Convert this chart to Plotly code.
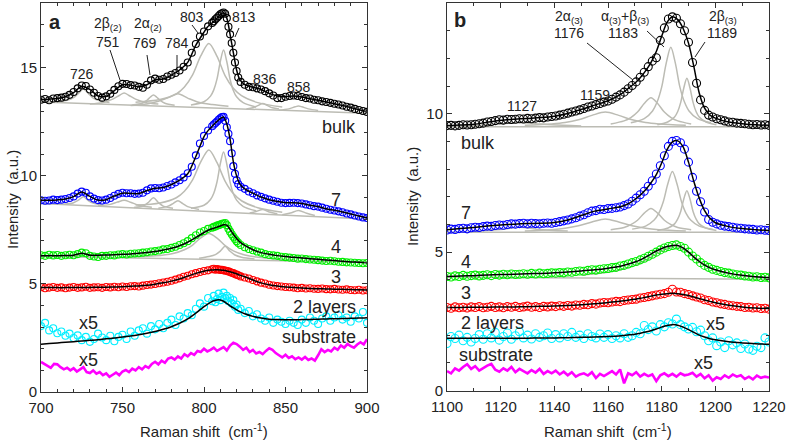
import plotly.graph_objects as go

W, H = 787, 441

# ================= panel a : 700-900 cm-1 =================
XA = [700 + 2.5 * i for i in range(43)] + [806 + i for i in range(16)] + [822.5 + 2.5 * i for i in range(32)]
FA = [700 + 5 * i for i in range(21)] + [802 + 2 * i for i in range(11)] + [825 + 5 * i for i in range(16)]
XSA = [700 + 2 * i for i in range(101)]

a_bulk = [13.52, 13.56, 13.5, 13.58, 13.6, 13.62, 13.66, 13.75, 13.88, 14.05,
          14.18, 14.16, 14.0, 13.85, 13.7, 13.62, 13.68, 13.8, 13.98, 14.15,
          14.26, 14.25, 14.2, 14.18, 14.12, 14.08, 14.22, 14.42, 14.5, 14.45,
          14.48, 14.6, 14.68, 14.76, 14.88, 15.05, 15.25, 15.7, 16.1, 16.45,
          16.68, 16.92, 17.08,
          17.15, 17.25, 17.32, 17.4, 17.48, 17.52, 17.56, 17.5, 17.3, 16.9, 16.55, 16.15, 15.7, 15.25, 14.85, 14.55,
          14.35, 14.22, 14.12, 14.1, 14.05, 14.0, 13.92, 13.82, 13.72, 13.6, 13.6, 13.66, 13.7, 13.72, 13.7, 13.65,
          13.6, 13.58, 13.52, 13.5, 13.45, 13.42, 13.38, 13.34, 13.3, 13.26, 13.2, 13.16, 13.1, 13.05, 13.0, 12.96]
a_7 = [8.87, 8.85, 8.86, 8.9, 8.88, 8.9, 8.93, 8.98, 9.05, 9.18,
       9.27, 9.22, 9.05, 8.95, 8.88, 8.86, 8.9, 8.98, 9.08, 9.17,
       9.22, 9.2, 9.2, 9.17, 9.18, 9.22, 9.33, 9.42, 9.44, 9.43,
       9.46, 9.53, 9.6, 9.7, 9.8, 9.93, 10.12, 10.42, 10.95, 11.5,
       11.85, 12.1, 12.3,
       12.38, 12.45, 12.52, 12.6, 12.66, 12.72, 12.73, 12.55, 12.25, 11.95, 11.6, 11.05, 10.45, 10.1, 9.8, 9.62,
       9.5, 9.4, 9.28, 9.2, 9.1, 9.03, 8.96, 8.9, 8.85, 8.8, 8.76, 8.74, 8.75, 8.76, 8.74, 8.72,
       8.68, 8.64, 8.6, 8.58, 8.53, 8.48, 8.43, 8.4, 8.36, 8.32, 8.26, 8.22, 8.17, 8.12, 8.08, 8.05]
a_4 = [6.33, 6.3, 6.35, 6.32, 6.34, 6.3, 6.33, 6.35, 6.33, 6.38,
       6.45, 6.42, 6.3, 6.27, 6.25, 6.3, 6.3, 6.33, 6.32, 6.36,
       6.38, 6.36, 6.4, 6.41, 6.42, 6.45, 6.47, 6.5, 6.52, 6.55,
       6.6, 6.62, 6.67, 6.72, 6.8, 6.88, 6.98, 7.12, 7.25, 7.38,
       7.45, 7.55, 7.6,
       7.64, 7.66, 7.7, 7.72, 7.75, 7.78, 7.8, 7.82, 7.72, 7.55, 7.42, 7.3, 7.18, 7.08, 6.98, 6.9,
       6.8, 6.7, 6.62, 6.56, 6.5, 6.45, 6.38, 6.34, 6.32, 6.3, 6.26, 6.24, 6.22, 6.2, 6.17, 6.18,
       6.15, 6.13, 6.12, 6.1, 6.08, 6.06, 6.07, 6.05, 6.03, 6.02, 6.0, 5.99, 5.98, 5.97, 5.96, 5.97]
a_3 = [4.85, 4.8, 4.83, 4.86, 4.82, 4.84, 4.8, 4.83, 4.86, 4.82,
       4.84, 4.87, 4.82, 4.84, 4.85, 4.82, 4.86, 4.84, 4.87, 4.85,
       4.88, 4.86, 4.89, 4.9, 4.88, 4.92, 4.95, 4.97, 5.0, 5.03,
       5.07, 5.1, 5.15, 5.2, 5.26, 5.33, 5.38, 5.45, 5.5, 5.55,
       5.6, 5.63, 5.68,
       5.7, 5.66, 5.69, 5.67, 5.65, 5.66, 5.63, 5.62, 5.6, 5.58, 5.55, 5.52, 5.5, 5.46, 5.43, 5.4,
       5.35, 5.3, 5.25, 5.18, 5.12, 5.06, 5.02, 4.96, 4.93, 4.9, 4.88, 4.86, 4.85, 4.83, 4.8, 4.82,
       4.79, 4.8, 4.78, 4.77, 4.79, 4.76, 4.75, 4.77, 4.74, 4.73, 4.75, 4.72, 4.71, 4.73, 4.7, 4.71]
a_2 = [3.05, 3.2, 2.85, 2.95, 2.72, 2.8, 2.6, 2.7, 2.5, 2.62,
       2.4, 2.55, 2.32, 2.45, 2.7, 2.52, 2.4, 2.6, 2.35, 2.55,
       2.65, 2.45, 2.8, 2.6, 2.85, 2.95, 2.7, 3.05, 2.9, 3.15,
       2.95, 3.2, 3.35, 3.1, 3.5, 3.4, 3.65, 3.55, 3.85, 4.1,
       3.95, 4.35, 4.2,
       4.45, 4.15, 4.3, 4.55, 4.25, 4.4, 4.6, 4.35, 4.45, 4.2, 4.35, 4.1, 4.25, 3.95, 4.05, 3.8,
       3.85, 3.65, 3.75, 3.5, 3.6, 3.4, 3.3, 3.45, 3.2, 3.35, 3.25, 3.15, 3.3, 3.2, 3.1, 3.35,
       3.2, 3.45, 3.3, 3.15, 3.4, 3.5, 3.3, 3.45, 3.55, 3.35, 3.45, 3.25, 3.5, 3.4, 3.7, 3.2]
a_sub = [1.39, 1.3, 1.2, 1.12, 1.3, 1.28, 1.15, 1.05, 1.12, 1.0, 1.1, 0.95, 1.05, 1.15, 0.92, 0.88, 1.0, 0.85, 0.92, 0.78,
         0.86, 0.7, 0.8, 0.9, 0.78, 0.95, 1.02, 0.92, 1.08, 1.0, 1.15, 1.05, 1.2, 1.12, 1.3, 1.4, 1.28, 1.45, 1.35, 1.55,
         1.6, 1.5, 1.65, 1.55, 1.75, 1.65, 1.8, 1.72, 1.9, 1.85, 2.0, 1.88, 1.95, 2.05, 1.9, 1.98, 2.08, 1.92, 2.15, 2.28,
         2.22, 2.1, 1.95, 2.05, 1.85, 1.95, 1.78, 1.85, 1.75, 1.9, 2.02, 1.95, 1.8, 1.7, 1.6, 1.72, 1.58, 1.65, 1.52, 1.6,
         1.5, 1.62, 1.48, 1.55, 1.45, 1.7, 1.98, 1.85, 1.95, 1.88, 2.05, 1.95, 2.15, 2.05, 2.22, 2.12, 2.05, 2.2, 2.3, 2.2,
         2.45]

a_bulk_fit = [13.53, 13.55, 13.58, 13.66, 13.85, 14.15, 14.0, 13.7, 13.68, 13.95, 14.22, 14.2, 14.12, 14.22, 14.45,
              14.48, 14.66, 14.9, 15.25, 16.05, 16.65,
              16.88, 17.02, 17.14, 17.3, 17.46, 17.55, 17.3, 16.55, 15.7, 14.9, 14.45,
              14.22, 14.1, 14.0, 13.82, 13.7, 13.66, 13.7, 13.65, 13.57, 13.5, 13.42, 13.34, 13.26, 13.16, 13.06, 12.97]
a_7_fit = [8.87, 8.87, 8.89, 8.93, 9.04, 9.25, 9.05, 8.88, 8.9, 9.07, 9.2, 9.19, 9.18, 9.32, 9.43, 9.46, 9.6, 9.8,
           10.1, 10.9, 11.82,
           12.05, 12.22, 12.38, 12.52, 12.65, 12.72, 12.4, 11.7, 10.65, 10.0, 9.62,
           9.4, 9.2, 9.02, 8.9, 8.82, 8.76, 8.76, 8.72, 8.64, 8.58, 8.48, 8.41, 8.33, 8.24, 8.14, 8.06]
a_4_fit = [6.3, 6.31, 6.31, 6.32, 6.33, 6.42, 6.33, 6.33, 6.34, 6.35, 6.37, 6.39, 6.42, 6.45, 6.5, 6.57, 6.65, 6.77,
           6.93, 7.15, 7.38,
           7.46, 7.53, 7.58, 7.63, 7.68, 7.74, 7.72, 7.52, 7.3, 7.1, 6.94,
           6.78, 6.58, 6.45, 6.37, 6.31, 6.27, 6.23, 6.2, 6.17, 6.14, 6.11, 6.08, 6.05, 6.02, 6.0, 5.98]
a_3_fit = [4.83, 4.83, 4.83, 4.83, 4.84, 4.84, 4.84, 4.85, 4.85, 4.86, 4.87, 4.89, 4.91, 4.94, 4.99, 5.05, 5.13, 5.23,
           5.36, 5.49, 5.59,
           5.62, 5.64, 5.65, 5.66, 5.65, 5.63, 5.6, 5.56, 5.52, 5.47, 5.41,
           5.33, 5.18, 5.05, 4.96, 4.9, 4.86, 4.83, 4.81, 4.79, 4.78, 4.77, 4.76, 4.75, 4.74, 4.73, 4.72]
a_2_fit = [2.21, 2.24, 2.27, 2.3, 2.33, 2.36, 2.39, 2.42, 2.46, 2.5, 2.54, 2.59, 2.65, 2.72, 2.8, 2.9, 3.02, 3.18,
           3.38, 3.65, 3.95,
           4.06, 4.15, 4.22, 4.26, 4.26, 4.2, 4.1, 3.99, 3.89, 3.8, 3.72,
           3.62, 3.5, 3.42, 3.37, 3.35, 3.34, 3.34, 3.35, 3.36, 3.37, 3.38, 3.39, 3.4, 3.41, 3.42, 3.44]

# fitted components (x list, y list)
a_bulk_comps = [
    ([700, 900], [13.42, 12.9]),
    ([710, 716, 720, 723, 726, 729, 732, 736, 742], [13.44, 13.5, 13.62, 13.82, 14.02, 13.82, 13.6, 13.47, 13.4]),
    ([730, 738, 744, 748, 751, 754, 758, 764, 772], [13.33, 13.4, 13.55, 13.72, 13.84, 13.72, 13.55, 13.4, 13.33]),
    ([756, 762, 765, 767, 769, 771, 773, 776, 782], [13.28, 13.36, 13.5, 13.64, 13.74, 13.64, 13.5, 13.36, 13.27]),
    ([755, 765, 772, 778, 784, 790, 796, 805, 815], [13.26, 13.33, 13.45, 13.62, 13.8, 13.6, 13.42, 13.3, 13.22]),
    ([758, 773, 783, 788, 793, 798, 803, 808, 813, 818, 823, 833, 848],
     [13.41, 13.53, 13.79, 14.11, 14.67, 15.55, 16.13, 15.53, 14.63, 14.05, 13.71, 13.39, 13.19]),
    ([792, 800, 804, 806, 808, 810, 812, 814, 816, 818, 820, 824, 832],
     [13.28, 13.43, 13.69, 13.98, 14.49, 15.29, 15.82, 15.28, 14.47, 13.95, 13.66, 13.39, 13.19]),
    ([826, 830, 833, 836, 839, 842, 846], [13.1, 13.15, 13.25, 13.35, 13.25, 13.15, 13.09]),
    ([846, 852, 856, 858, 860, 864, 870], [13.04, 13.1, 13.2, 13.23, 13.2, 13.1, 13.03]),
]
a_7_comps = [
    ([700, 900], [8.72, 8.0]),
    ([714, 720, 723, 726, 729, 732, 738], [8.69, 8.76, 8.88, 9.03, 8.86, 8.74, 8.65]),
    ([735, 742, 747, 751, 755, 760, 768], [8.62, 8.67, 8.79, 8.87, 8.78, 8.64, 8.55]),
    ([757, 763, 766, 769, 772, 775, 781], [8.54, 8.62, 8.78, 8.99, 8.77, 8.6, 8.5]),
    ([772, 778, 781, 784, 787, 790, 797], [8.5, 8.6, 8.72, 8.85, 8.72, 8.58, 8.45]),
    ([758, 773, 783, 788, 793, 798, 803, 808, 813, 818, 823, 833, 848],
     [8.65, 8.75, 8.99, 9.29, 9.82, 10.65, 11.2, 10.61, 9.75, 9.18, 8.85, 8.53, 8.32]),
    ([792, 800, 804, 806, 808, 810, 812, 814, 816, 818, 820, 824, 832],
     [8.5, 8.64, 8.91, 9.2, 9.73, 10.56, 11.11, 10.54, 9.71, 9.17, 8.88, 8.59, 8.38]),
    ([828, 832, 836, 840, 845], [8.28, 8.35, 8.45, 8.33, 8.25]),
    ([848, 853, 858, 863, 868], [8.2, 8.28, 8.4, 8.27, 8.17]),
]
a_4_comps = [
    ([700, 900], [6.28, 6.0]),
    ([716, 722, 726, 730, 736], [6.28, 6.32, 6.42, 6.32, 6.27]),
    ([750, 770, 781, 788, 793, 798, 803, 808, 813, 818, 825, 836, 856],
     [6.26, 6.3, 6.41, 6.58, 6.8, 7.13, 7.33, 7.12, 6.77, 6.53, 6.34, 6.21, 6.11]),
    ([797, 803, 807, 810, 813, 816, 819, 823, 831], [6.19, 6.27, 6.36, 6.52, 6.74, 6.51, 6.34, 6.24, 6.16]),
]

# ================= panel b : 1100-1220 cm-1 =================
XB = [1100 + 1.5 * i for i in range(81)]
FB = [1100 + 5 * i for i in range(14)] + [1168 + 2 * i for i in range(17)] + [1205 + 5 * i for i in range(4)]

b_bulk = [9.57, 9.58, 9.56, 9.58, 9.6, 9.59, 9.6, 9.62, 9.64, 9.66,
          9.7, 9.72, 9.75, 9.78, 9.77, 9.8, 9.79, 9.8, 9.82, 9.81,
          9.83, 9.82, 9.84, 9.86, 9.85, 9.88, 9.9, 9.92, 9.95, 9.98,
          10.02, 10.06, 10.1, 10.14, 10.19, 10.24, 10.28, 10.33, 10.37, 10.42,
          10.46, 10.52, 10.6, 10.68, 10.78, 10.9, 11.02, 11.15, 11.32, 11.5,
          11.7, 11.9, 12.02, 12.65, 13.1, 13.42, 13.5, 13.45, 13.25, 13.0,
          12.58, 11.85, 11.1, 10.5, 10.12, 9.95, 9.88, 9.82, 9.78, 9.74,
          9.7, 9.69, 9.66, 9.65, 9.64, 9.62, 9.6, 9.61, 9.59, 9.6,
          9.58]
b_7 = [5.8, 5.83, 5.82, 5.85, 5.86, 5.84, 5.88, 5.9, 5.89, 5.92,
       5.94, 5.93, 5.96, 5.98, 5.97, 6.0, 6.02, 6.01, 6.03, 6.04,
       6.02, 6.04, 6.03, 6.02, 6.04, 6.05, 6.04, 6.07, 6.1, 6.13,
       6.16, 6.2, 6.24, 6.3, 6.35, 6.42, 6.48, 6.5, 6.55, 6.54,
       6.57, 6.58, 6.6, 6.63, 6.68, 6.74, 6.84, 6.95, 7.07, 7.2,
       7.38, 7.58, 7.82, 8.12, 8.48, 8.82, 9.0, 9.03, 8.95, 8.72,
       8.25, 7.7, 7.2, 6.82, 6.45, 6.18, 6.08, 6.02, 5.97, 5.94,
       5.92, 5.9, 5.87, 5.86, 5.84, 5.83, 5.82, 5.8, 5.81, 5.79,
       5.78]
b_4 = [4.12, 4.1, 4.14, 4.12, 4.16, 4.13, 4.15, 4.17, 4.14, 4.16,
       4.18, 4.15, 4.19, 4.17, 4.2, 4.18, 4.21, 4.19, 4.2, 4.22,
       4.2, 4.23, 4.21, 4.24, 4.22, 4.23, 4.25, 4.24, 4.26, 4.25,
       4.28, 4.27, 4.3, 4.32, 4.31, 4.34, 4.36, 4.35, 4.38, 4.4,
       4.41, 4.44, 4.45, 4.5, 4.52, 4.57, 4.62, 4.66, 4.72, 4.78,
       4.85, 4.92, 5.0, 5.08, 5.15, 5.2, 5.24, 5.26, 5.2, 5.14,
       5.0, 4.86, 4.75, 4.62, 4.52, 4.45, 4.38, 4.34, 4.3, 4.26,
       4.24, 4.21, 4.18, 4.17, 4.14, 4.13, 4.1, 4.11, 4.08, 4.09,
       4.07]
b_3 = [3.0, 2.97, 3.02, 2.99, 3.01, 2.98, 3.02, 3.0, 3.03, 2.99,
       3.01, 3.04, 3.0, 3.02, 2.99, 3.03, 3.01, 3.04, 3.0, 3.02,
       3.05, 3.01, 3.03, 3.0, 3.04, 3.02, 3.05, 3.03, 3.06, 3.04,
       3.07, 3.05, 3.09, 3.08, 3.11, 3.1, 3.14, 3.12, 3.16, 3.18,
       3.17, 3.2, 3.22, 3.21, 3.25, 3.27, 3.29, 3.3, 3.34, 3.36,
       3.39, 3.42, 3.45, 3.48, 3.5, 3.55, 3.66, 3.56, 3.55, 3.5,
       3.47, 3.42, 3.38, 3.34, 3.28, 3.25, 3.2, 3.17, 3.13, 3.11,
       3.08, 3.06, 3.04, 3.03, 3.0, 3.01, 2.98, 2.99, 2.96, 2.97,
       2.94]
b_2 = [1.7, 1.95, 1.88, 2.0, 1.8, 1.92, 1.75, 1.88, 2.02, 1.85,
       2.05, 1.9, 2.1, 1.82, 1.95, 2.08, 1.85, 1.98, 2.12, 1.9,
       2.0, 1.86, 2.05, 1.92, 1.98, 2.08, 1.88, 2.02, 1.9, 2.05,
       1.95, 2.1, 1.92, 2.0, 1.88, 2.05, 1.95, 1.9, 2.04, 1.92,
       2.02, 1.88, 1.98, 1.9, 2.05, 1.92, 1.98, 2.1, 2.05, 2.35,
       2.2, 2.3, 2.15, 2.38, 2.3, 2.45, 2.4, 2.58, 2.38, 2.3,
       2.22, 2.28, 2.12, 2.18, 1.98, 1.8, 1.9, 1.62, 1.75, 1.55,
       1.8, 1.65, 1.72, 1.52, 1.68, 1.5, 1.45, 1.6, 1.55, 1.9,
       1.75]
b_sub = [0.7, 0.62, 0.8, 0.72, 0.85, 0.95, 0.78, 0.88, 0.72, 0.82,
         0.9, 0.96, 0.75, 0.68, 0.8, 0.72, 0.85, 0.66, 0.78, 0.7,
         0.62, 0.74, 0.65, 0.78, 0.6, 0.7, 0.62, 0.72, 0.58, 0.68,
         0.55, 0.66, 0.5, 0.58, 0.62, 0.54, 0.66, 0.45, 0.6, 0.52,
         0.62, 0.7, 0.58, 0.76, 0.26, 0.62, 0.55, 0.66, 0.5, 0.6,
         0.52, 0.58, 0.34, 0.55, 0.62, 0.52, 0.6, 0.5, 0.62, 0.55,
         0.58, 0.64, 0.5, 0.6, 0.44, 0.55, 0.36, 0.48, 0.42, 0.55,
         0.46, 0.58, 0.5, 0.55, 0.42, 0.5, 0.4, 0.54, 0.46, 0.5,
         0.47]

b_bulk_fit = [9.57, 9.59, 9.62, 9.69, 9.76, 9.8, 9.83, 9.86, 9.91, 10.01, 10.15, 10.31, 10.47, 10.72,
              10.95, 11.1, 11.3, 11.55, 11.85, 12.25, 12.8, 13.3, 13.5, 13.4, 13.08, 12.55, 11.7, 10.75, 10.2, 9.95, 9.84,
              9.7, 9.64, 9.6, 9.58]
b_7_fit = [5.81, 5.85, 5.89, 5.94, 5.98, 6.01, 6.03, 6.04, 6.07, 6.16, 6.32, 6.48, 6.56, 6.65,
           6.77, 6.9, 7.06, 7.25, 7.5, 7.8, 8.22, 8.7, 8.98, 9.02, 8.8, 8.25, 7.55, 6.95, 6.5, 6.22, 6.06,
           5.92, 5.85, 5.81, 5.78]
b_4_fit = [4.12, 4.14, 4.15, 4.17, 4.19, 4.2, 4.22, 4.23, 4.25, 4.28, 4.32, 4.36, 4.42, 4.5,
           4.58, 4.64, 4.72, 4.82, 4.93, 5.04, 5.13, 5.2, 5.24, 5.24, 5.15, 5.0, 4.82, 4.66, 4.53, 4.43, 4.36,
           4.24, 4.16, 4.11, 4.08]
b_3_fit = [3.0, 3.0, 3.01, 3.01, 3.02, 3.02, 3.03, 3.04, 3.05, 3.07, 3.1, 3.13, 3.18, 3.23,
           3.27, 3.3, 3.33, 3.37, 3.41, 3.45, 3.48, 3.5, 3.51, 3.5, 3.47, 3.43, 3.38, 3.32, 3.27, 3.22, 3.17,
           3.08, 3.02, 2.98, 2.96]
b_2_fit = [1.89, 1.89, 1.89, 1.89, 1.89, 1.89, 1.89, 1.9, 1.9, 1.91, 1.92, 1.93, 1.95, 1.98,
           2.01, 2.03, 2.07, 2.11, 2.16, 2.22, 2.29, 2.35, 2.38, 2.36, 2.29, 2.2, 2.1, 2.0, 1.93, 1.87, 1.83,
           1.76, 1.72, 1.69, 1.67]

b_bulk_comps = [
    ([1100, 1220], [9.53, 9.53]),
    ([1105, 1115, 1121, 1127, 1133, 1139, 1150], [9.56, 9.6, 9.64, 9.68, 9.64, 9.6, 9.56]),
    ([1129, 1139, 1144, 1149, 1154, 1159, 1164, 1169, 1174, 1179, 1189],
     [9.58, 9.63, 9.68, 9.78, 9.94, 10.06, 9.94, 9.78, 9.68, 9.63, 9.58]),
    ([1161, 1166, 1168.5, 1171, 1173.5, 1176, 1178.5, 1181, 1183.5, 1186, 1191],
     [9.63, 9.74, 9.86, 10.06, 10.37, 10.58, 10.37, 10.06, 9.86, 9.74, 9.63]),
    ([1168.5, 1173.5, 1176.6, 1178.3, 1180, 1181.7, 1183.4, 1185.1, 1186.8, 1188.5, 1190.2, 1193.4, 1198.4],
     [9.67, 9.82, 10.1, 10.42, 10.96, 11.83, 12.4, 11.83, 10.96, 10.42, 10.1, 9.82, 9.67]),
    ([1178.4, 1182.4, 1184.8, 1185.95, 1187.1, 1188.25, 1189.4, 1190.55, 1191.7, 1192.85, 1194, 1196.4, 1200.4],
     [9.6, 9.71, 9.88, 10.07, 10.41, 10.93, 11.28, 10.93, 10.41, 10.07, 9.88, 9.71, 9.6]),
]
b_7_comps = [
    ([1100, 1220], [5.72, 5.72]),
    ([1110, 1120, 1127, 1134, 1145], [5.76, 5.82, 5.9, 5.82, 5.76]),
    ([1129, 1139, 1144, 1149, 1154, 1159, 1164, 1169, 1174, 1179, 1189],
     [5.76, 5.81, 5.86, 5.95, 6.09, 6.2, 6.09, 5.95, 5.86, 5.81, 5.76]),
    ([1161, 1166, 1168.5, 1171, 1173.5, 1176, 1178.5, 1181, 1183.5, 1186, 1191],
     [5.81, 5.89, 5.99, 6.15, 6.41, 6.58, 6.41, 6.15, 5.99, 5.89, 5.81]),
    ([1169, 1174, 1177.2, 1178.9, 1180.6, 1182.3, 1184, 1185.7, 1187.4, 1189.1, 1190.8, 1194, 1199],
     [5.83, 5.94, 6.16, 6.4, 6.82, 7.47, 7.91, 7.47, 6.82, 6.4, 6.16, 5.94, 5.83]),
    ([1178.4, 1182.4, 1184.8, 1185.95, 1187.1, 1188.25, 1189.4, 1190.55, 1191.7, 1192.85, 1194, 1196.4, 1200.4],
     [5.78, 5.87, 6.02, 6.19, 6.47, 6.92, 7.22, 6.92, 6.47, 6.19, 6.02, 5.87, 5.78]),
]
b_4_comps = [
    ([1100, 1220], [4.1, 4.02]),
    ([1150, 1160, 1165, 1170, 1175, 1180, 1185, 1190, 1195, 1200, 1205, 1212, 1220],
     [4.17, 4.27, 4.37, 4.52, 4.76, 5.05, 5.2, 5.0, 4.62, 4.36, 4.22, 4.12, 4.07]),
]

# ================= styling =================
GREY = "#bcbcb4"
FONT = "Liberation Sans, Arial, Helvetica, sans-serif"
TXT = "#222222"

fig = go.Figure()


def comps(lst, xa, ya):
    for xs, ys in lst:
        fig.add_trace(go.Scatter(x=xs, y=ys, mode="lines", xaxis=xa, yaxis=ya,
                                 line=dict(color=GREY, width=1.5, shape="spline", smoothing=0.9),
                                 hoverinfo="skip", showlegend=False))


def data(xs, ys, color, size, xa, ya):
    fig.add_trace(go.Scatter(x=xs, y=ys, mode="markers", xaxis=xa, yaxis=ya,
                             marker=dict(symbol="circle-open", size=size, color=color, line=dict(width=1.1)),
                             showlegend=False))


def fit(xs, ys, xa, ya):
    fig.add_trace(go.Scatter(x=xs, y=ys, mode="lines", xaxis=xa, yaxis=ya,
                             line=dict(color="black", width=1.5, shape="spline", smoothing=0.8),
                             showlegend=False))


def noisy(xs, ys, xa, ya):
    fig.add_trace(go.Scatter(x=xs, y=ys, mode="lines", xaxis=xa, yaxis=ya,
                             line=dict(color="#ff00ff", width=2.6), showlegend=False))


# panel a
comps(a_bulk_comps, "x", "y")
comps(a_7_comps, "x", "y")
comps(a_4_comps, "x", "y")
data(XA, a_bulk, "black", 7, "x", "y")
data(XA, a_7, "#0000ff", 7, "x", "y")
data(XA, a_4, "#00ee00", 7, "x", "y")
data(XA, a_3, "#ff0000", 7, "x", "y")
data(XA, a_2, "#00eeff", 7, "x", "y")
noisy(XSA, a_sub, "x", "y")
for f in (a_bulk_fit, a_7_fit, a_4_fit, a_3_fit, a_2_fit):
    fit(FA, f, "x", "y")

# panel b
comps(b_bulk_comps, "x2", "y2")
comps(b_7_comps, "x2", "y2")
comps(b_4_comps, "x2", "y2")
data(XB, b_bulk, "black", 8, "x2", "y2")
data(XB, b_7, "#0000ff", 8, "x2", "y2")
data(XB, b_4, "#00ee00", 8, "x2", "y2")
data(XB, b_3, "#ff0000", 8, "x2", "y2")
data(XB, b_2, "#00eeff", 8, "x2", "y2")
noisy(XB, b_sub, "x2", "y2")
for f in (b_bulk_fit, b_7_fit, b_4_fit, b_3_fit, b_2_fit):
    fit(FB, f, "x2", "y2")


def px(x):
    return x / W


def py(y):
    return 1 - y / H


ann = []


def label(x, y, text, size=18, bold=False, xanchor="center"):
    ann.append(dict(x=px(x), y=py(y), xref="paper", yref="paper", text=("<b>%s</b>" % text) if bold else text,
                    showarrow=False, xanchor=xanchor, yanchor="middle",
                    font=dict(size=size, color=TXT, family=FONT)))


# panel a texts
label(55, 22, "a", 20, True)
label(82, 74, "726", 14)
label(108, 24, "2β<sub>(2)</sub>", 14)
label(108, 42, "751", 14)
label(148, 24, "2α<sub>(2)</sub>", 14)
label(145, 43, "769", 14)
label(177, 43, "784", 14)
label(192, 17, "803", 14)
label(244, 17, "813", 14)
label(265, 79, "836", 14)
label(299, 87, "858", 14)
label(358, 127, "bulk", xanchor="right")
label(336, 200, "7")
label(336, 247, "4")
label(336, 277, "3")
label(358, 307, "2 layers", xanchor="right")
label(358, 337, "substrate", xanchor="right")
label(88, 323, "x5")
label(88, 360, "x5")

# panel b texts
label(460, 20, "b", 20, True)
label(569, 17, "2α<sub>(3)</sub>", 14)
label(569, 33, "1176", 14)
label(625, 17, "α<sub>(3)</sub>+β<sub>(3)</sub>", 14)
label(623, 33, "1183", 14)
label(723, 17, "2β<sub>(3)</sub>", 14)
label(722, 33, "1189", 14)
label(595, 95, "1159", 14)
label(522, 106, "1127", 14)
label(459, 143, "bulk", xanchor="left")
label(459, 213, "7", xanchor="left")
label(459, 262, "4", xanchor="left")
label(459, 293, "3", xanchor="left")
label(459, 323, "2 layers", xanchor="left")
label(457, 355, "substrate", xanchor="left")
label(715, 324, "x5")
label(703, 363, "x5")

# axis titles
for xc, yc in ((12, 200), (412, 197)):
    ann.append(dict(x=px(xc), y=py(yc), xref="paper", yref="paper", text="Intensity  (a.u.)", textangle=-90,
                    showarrow=False, xanchor="center", yanchor="middle", font=dict(size=15, color=TXT, family=FONT)))
for xc in (204, 608):
    ann.append(dict(x=px(xc), y=py(430), xref="paper", yref="paper", text="Raman shift  (cm<sup>-1</sup>)",
                    showarrow=False, xanchor="center", yanchor="middle", font=dict(size=15, color=TXT, family=FONT)))

# leader lines (pixel positions)
leaders = [((110, 50), (120, 80)), ((147, 55), (150, 75)), ((177, 55), (177, 70)),
           ((192, 25), (198, 33)), ((239, 28), (235, 37)),
           ((587, 43), (633, 80)), ((647, 31), (664, 47)), ((705, 42), (695, 57))]
shapes = [dict(type="line", xref="paper", yref="paper", x0=px(a[0]), y0=py(a[1]), x1=px(b[0]), y1=py(b[1]),
               line=dict(color="#222", width=1)) for a, b in leaders]

axcommon = dict(showgrid=False, zeroline=False, showline=True, linecolor="#333", linewidth=1, mirror="ticks",
                ticks="inside", ticklen=5, tickcolor="#333", automargin=False,
                tickfont=dict(size=15, color=TXT, family=FONT))

fig.update_layout(
    width=W, height=H, margin=dict(l=0, r=0, t=0, b=0, autoexpand=False),
    paper_bgcolor="white", plot_bgcolor="white", showlegend=False,
    font=dict(family=FONT, color=TXT),
    xaxis=dict(domain=[41 / W, 367 / W], range=[700, 900], dtick=50, anchor="y", ticklabelstandoff=2,
               minor=dict(ticks="inside", ticklen=3, dtick=10, tickcolor="#333"), **axcommon),
    yaxis=dict(domain=[(H - 392) / H, (H - 3) / H], range=[0, 18], dtick=5, anchor="x",
               minor=dict(ticks="inside", ticklen=3, dtick=1, tickcolor="#333"), **axcommon),
    xaxis2=dict(domain=[447 / W, 769 / W], range=[1100, 1220], dtick=20, anchor="y2", ticklabelstandoff=2,
                minor=dict(ticks="inside", ticklen=3, dtick=10, tickcolor="#333"), **axcommon),
    yaxis2=dict(domain=[(H - 390.5) / H, (H - 3) / H], range=[0, 14], dtick=5, anchor="x2",
                minor=dict(ticks="inside", ticklen=3, dtick=1, tickcolor="#333"), **axcommon),
    annotations=ann, shapes=shapes,
)

fig.write_html("out.html", config={"displayModeBar": False},
               post_script="document.body.style.margin='0px';document.body.style.padding='0px';")
